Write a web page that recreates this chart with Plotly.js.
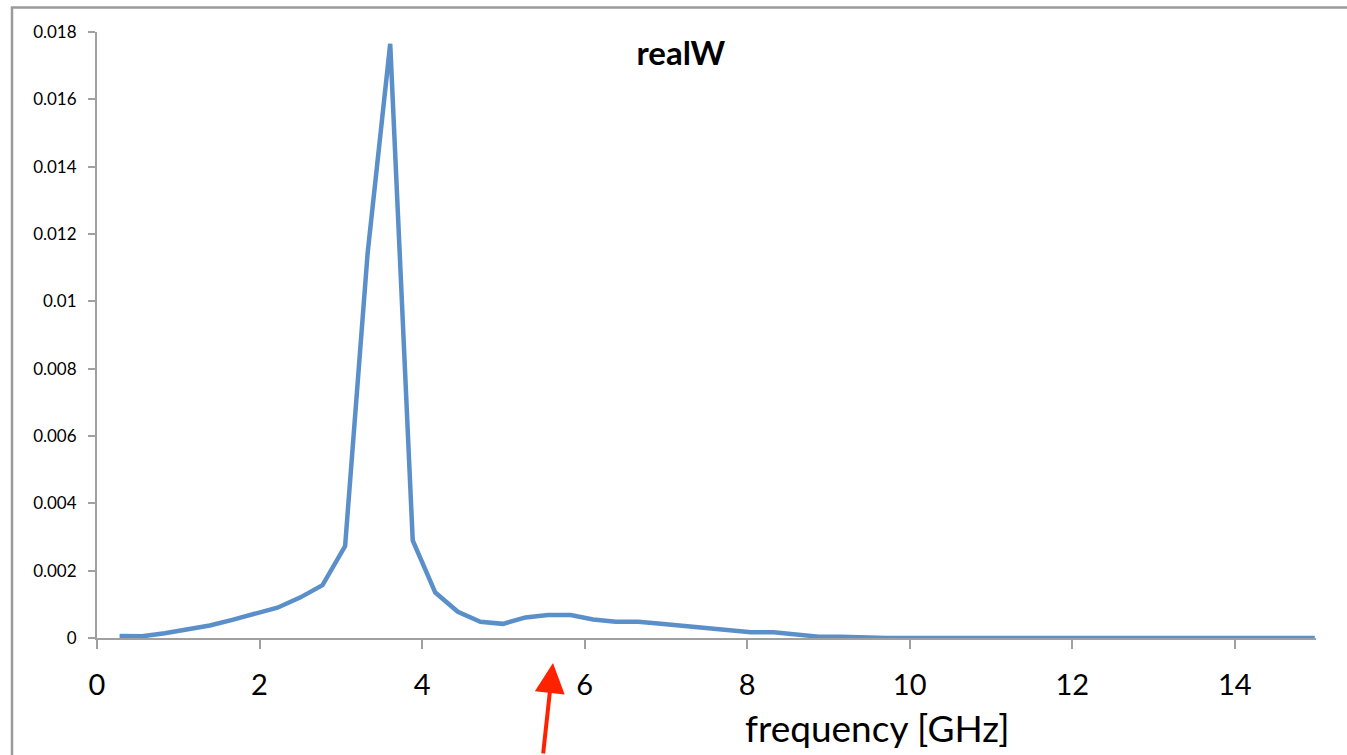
<!DOCTYPE html>
<html>
<head>
<meta charset="utf-8">
<script src="https://cdn.plot.ly/plotly-3.0.1.min.js"></script>
<style>
  html, body { margin: 0; padding: 0; background: #ffffff; }
  #chart { width: 1347px; height: 755px; }
</style>
</head>
<body>
<div id="chart"></div>
<script>
// frequency samples [GHz]
const frequency = [
  0.278, 0.555, 0.833, 1.110, 1.388, 1.665, 1.943, 2.220, 2.498, 2.775,
  3.053, 3.330, 3.608, 3.885, 4.163, 4.440, 4.718, 4.995, 5.273, 5.550,
  5.828, 6.105, 6.383, 6.660, 6.938, 7.215, 7.493, 7.770, 8.048, 8.325,
  8.603, 8.880, 9.158, 9.435, 9.713, 9.990, 10.268, 10.545, 10.823, 11.100,
  11.378, 11.655, 11.933, 12.210, 12.488, 12.765, 13.043, 13.320, 13.598, 13.875,
  14.153, 14.430, 14.708, 14.985
];
// realW values
const realW = [
  0.00006, 0.00005, 0.00014, 0.00025, 0.00037, 0.00054, 0.00072, 0.00090, 0.00120, 0.00157,
  0.00273, 0.01143, 0.01765, 0.00290, 0.00135, 0.00078, 0.00048, 0.00042, 0.00061, 0.00068,
  0.00068, 0.00055, 0.00048, 0.00048, 0.00042, 0.00035, 0.00029, 0.00023, 0.00017, 0.00017,
  0.00009, 0.00004, 0.00004, 0.00001, 0, 0, 0, 0, 0, 0,
  0, 0, 0, 0, 0, 0, 0, 0, 0, 0,
  0, 0, 0, 0
];
const xTickVals = [0, 2, 4, 6, 8, 10, 12, 14];
const xTickText = ["0", "2", "4", "6", "8", "10", "12", "14"];
const yTickVals = [0, 0.002, 0.004, 0.006, 0.008, 0.010, 0.012, 0.014, 0.016, 0.018];
const yTickText = ["0", "0.002", "0.004", "0.006", "0.008", "0.01", "0.012", "0.014", "0.016", "0.018"];

const chartTitle = "realW";
const xTitle = "frequency [GHz]";

const FONT = "Lato, 'Open Sans', 'Liberation Sans', sans-serif";
const AXIS_GRAY = "#a0a0a0";

const trace = {
  x: frequency,
  y: realW,
  type: "scatter",
  mode: "lines",
  line: { color: "#5b8fca", width: 4.5 },
  cliponaxis: false,
  hoverinfo: "skip"
};

const layout = {
  width: 1347,
  height: 755,
  margin: { l: 97, r: 31, t: 32, b: 117, pad: 0 },
  paper_bgcolor: "#ffffff",
  plot_bgcolor: "#ffffff",
  showlegend: false,
  font: { family: FONT, color: "#000000" },
  title: {
    text: "<b>" + chartTitle + "</b>",
    font: { family: FONT, size: 33, color: "#000000" },
    xref: "paper", x: 0.479, xanchor: "center",
    yref: "container", y: 1 - 53.5 / 755, yanchor: "middle"
  },
  xaxis: {
    range: [0, 15],
    tickmode: "array",
    tickvals: xTickVals,
    ticktext: xTickText,
    showgrid: false,
    zeroline: false,
    showline: true,
    linecolor: AXIS_GRAY,
    linewidth: 2,
    ticks: "outside",
    ticklen: 9,
    tickwidth: 2,
    tickcolor: AXIS_GRAY,
    ticklabelstandoff: 11,
    tickfont: { family: FONT, size: 29, color: "#000000" },
    fixedrange: true
  },
  yaxis: {
    range: [0, 0.018],
    tickmode: "array",
    tickvals: yTickVals,
    ticktext: yTickText,
    showgrid: false,
    zeroline: false,
    showline: true,
    linecolor: AXIS_GRAY,
    linewidth: 2,
    ticks: "outside",
    ticklen: 7,
    tickwidth: 2,
    tickcolor: AXIS_GRAY,
    ticklabelstandoff: 8,
    tickfont: { family: FONT, size: 17, color: "#000000" },
    fixedrange: true
  },
  annotations: [
    {
      text: xTitle,
      xref: "paper", yref: "paper",
      x: (877 - 97) / 1219, y: (638 - 727) / 606,
      xanchor: "center", yanchor: "middle",
      showarrow: false,
      font: { family: FONT, size: 37, color: "#000000" }
    },
    {
      text: "",
      xref: "paper", yref: "paper",
      x: (553 - 97) / 1219, y: (638 - 663) / 606,
      showarrow: true,
      arrowhead: 2,
      arrowsize: 1.5,
      arrowwidth: 4,
      arrowcolor: "#ff2200",
      ax: -10, ay: 100,
      standoff: 0
    }
  ],
  shapes: [
    {
      type: "path",
      xref: "paper", yref: "paper",
      path: "M " + ((12 - 97) / 1219) + "," + ((638 - 790) / 606) +
            " L " + ((12 - 97) / 1219) + "," + ((638 - 7.5) / 606) +
            " L " + ((1400 - 97) / 1219) + "," + ((638 - 7.5) / 606),
      line: { color: "#9a9a9a", width: 2.5 },
      layer: "below"
    }
  ]
};

Plotly.newPlot("chart", [trace], layout, { staticPlot: true, displayModeBar: false });
</script>
</body>
</html>
